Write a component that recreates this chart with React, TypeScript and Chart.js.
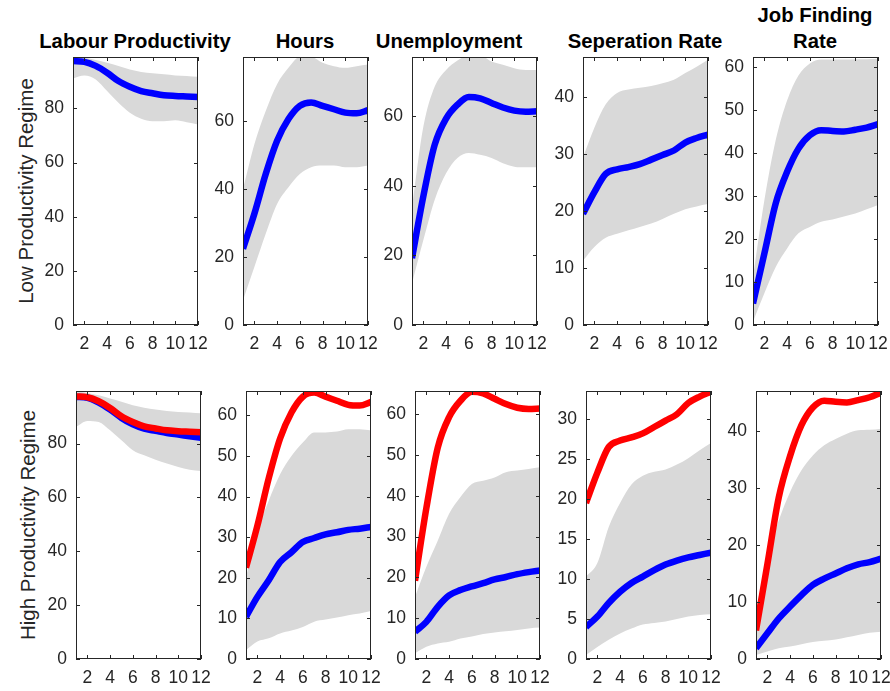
import React, { useEffect, useRef } from 'react';
import { Chart, registerables } from 'chart.js';

Chart.register(...registerables);

// horizon (quarters after the shock)
const horizon = [1, 2, 3, 4, 5, 6, 7, 8, 9, 10, 11, 12];

const indicatorTitles = [['Labour Productivity'], ['Hours'], ['Unemployment'], ['Seperation Rate'], ['Job Finding', 'Rate']];
const regimeLabels = ['Low Productivity Regime', 'High Productivity Regime'];

// low productivity regime: median and band
const lpLowMed = [97.5, 97.2, 95.7, 93.2, 90.1, 88.0, 86.4, 85.6, 84.9, 84.6, 84.4, 84.2];
const lpLowUp = [99.5, 98.8, 97.9, 96.9, 95.7, 94.4, 93.5, 93.0, 92.6, 92.2, 92.0, 91.7];
const lpLowLo = [91.1, 92.2, 90.7, 86.4, 82.1, 78.4, 76.2, 75.3, 75.3, 75.6, 74.9, 74.1];

const hoursLowMed = [22.5, 32.8, 44.5, 54.3, 60.7, 64.6, 65.6, 64.6, 63.6, 62.6, 62.4, 63.3];
const hoursLowUp = [40.1, 53.3, 63.1, 71.0, 75.8, 79.0, 79.0, 77.3, 76.3, 75.8, 76.3, 76.8];
const hoursLowLo = [7.3, 17.1, 26.9, 35.7, 40.6, 44.5, 46.5, 47.0, 47.0, 46.5, 46.5, 47.0];

const unempLowMed = [19.2, 37.0, 51.8, 59.3, 63.3, 65.5, 65.1, 63.8, 62.5, 61.6, 61.3, 61.4];
const unempLowUp = [34.0, 57.0, 68.5, 73.3, 76.0, 77.5, 77.5, 75.7, 74.8, 73.8, 73.3, 73.3];
const unempLowLo = [12.0, 24.4, 36.0, 43.6, 48.0, 49.4, 48.9, 48.0, 46.5, 45.5, 45.3, 45.3];

const sepLowMed = [19.5, 23.3, 26.5, 27.3, 27.7, 28.2, 29.0, 29.8, 30.6, 32.0, 32.8, 33.4];
const sepLowUp = [29.4, 34.6, 38.7, 40.7, 41.3, 41.6, 41.9, 42.4, 43.0, 44.2, 45.3, 46.5];
const sepLowLo = [11.3, 13.7, 15.3, 16.0, 16.6, 17.2, 17.8, 18.6, 19.5, 20.3, 20.8, 21.2];

const jfLowMed = [5.0, 16.6, 28.3, 35.6, 41.0, 44.1, 45.3, 45.1, 45.0, 45.4, 45.9, 46.7];
const jfLowUp = [11.2, 29.0, 43.0, 52.2, 58.0, 60.8, 61.7, 61.7, 61.7, 61.8, 61.8, 61.9];
const jfLowLo = [0.8, 7.4, 13.5, 17.8, 21.3, 22.8, 24.0, 24.5, 25.2, 25.9, 26.9, 27.9];

// high productivity regime: median and band
const lpHighMed = [97.3, 97.0, 95.2, 92.6, 89.5, 87.1, 85.5, 84.7, 83.9, 83.3, 82.7, 82.1];
const lpHighUp = [99.5, 98.8, 97.9, 96.7, 95.5, 94.2, 93.3, 92.6, 92.1, 91.7, 91.5, 91.2];
const lpHighLo = [86.2, 88.4, 88.0, 84.9, 81.2, 77.5, 75.6, 74.0, 72.6, 71.3, 70.3, 69.8];

const hoursHighMed = [10.4, 15.3, 19.4, 23.9, 26.3, 28.8, 29.8, 30.7, 31.2, 31.8, 32.1, 32.5];
const hoursHighUp = [20.2, 31.6, 39.0, 45.5, 50.0, 53.3, 55.8, 55.8, 56.0, 56.6, 56.6, 56.3];
const hoursHighLo = [2.2, 4.3, 5.1, 6.3, 7.0, 7.9, 9.2, 9.7, 10.2, 10.8, 11.2, 11.8];

const unempHighMed = [6.7, 9.1, 12.8, 15.6, 16.9, 17.8, 18.6, 19.5, 20.1, 20.8, 21.3, 21.7];
const unempHighUp = [15.2, 22.6, 29.0, 35.6, 39.7, 42.9, 43.7, 44.5, 45.8, 46.2, 46.6, 47.0];
const unempHighLo = [1.4, 3.0, 3.8, 4.2, 5.0, 5.5, 6.1, 6.5, 6.8, 7.1, 7.5, 7.7];

const sepHighMed = [4.0, 5.3, 7.0, 8.4, 9.5, 10.3, 11.1, 11.8, 12.3, 12.7, 13.0, 13.3];
const sepHighUp = [10.3, 12.0, 16.5, 19.5, 21.8, 22.9, 23.4, 23.7, 24.3, 25.1, 26.1, 27.0];
const sepHighLo = [0.5, 1.5, 2.4, 3.2, 3.8, 4.3, 4.5, 4.7, 5.0, 5.3, 5.5, 5.6];

const jfHighMed = [1.9, 4.5, 7.1, 9.2, 11.2, 13.0, 14.1, 15.0, 15.9, 16.6, 17.0, 17.6];
const jfHighUp = [8.6, 17.9, 24.3, 29.3, 33.1, 35.7, 37.5, 38.6, 39.5, 40.1, 40.2, 40.4];
const jfHighLo = [0.7, 1.3, 1.9, 2.2, 2.6, 3.0, 3.2, 3.4, 3.8, 4.2, 4.6, 4.8];

// y axis limits / steps per panel
const lowYMax = [99, 79, 77, 47, 62.3];
const lowYStep = [20, 20, 20, 10, 10];
const highYMax = [99.5, 66, 65.7, 33.5, 47];
const highYStep = [20, 10, 10, 5, 10];

// layout
const FONT = 'Arial, "Liberation Sans", Helvetica, sans-serif';
const AXIS_COLOR = '#262626';
const LPAD = 50;
const TPAD = 24;
const RPAD = 22;
const BPAD = 30;
const PLOT_W = 125;
const PLOT_H = 268;
const lowLefts = [73, 243, 412, 583, 753];
const highLefts = [76, 246, 415, 586, 756];
const lowTop = 57;
const highTop = 391;
const titleCenters = [135, 305, 449, 645, 815];

// MATLAB style box with inward ticks on all sides
const boxPlugin = {
  id: 'matlabBox',
  afterDraw(chart: any) {
    const { ctx, chartArea } = chart;
    const { left, top, right, bottom } = chartArea;
    const xs = chart.scales.x;
    const ys = chart.scales.y;
    ctx.save();
    ctx.strokeStyle = AXIS_COLOR;
    ctx.lineWidth = 1;
    ctx.strokeRect(left + 0.5, top + 0.5, right - left - 1, bottom - top - 1);
    ctx.beginPath();
    xs.ticks.forEach((t: any) => {
      const px = Math.round(xs.getPixelForValue(t.value)) + 0.5;
      ctx.moveTo(px, bottom);
      ctx.lineTo(px, bottom - 4);
      ctx.moveTo(px, top);
      ctx.lineTo(px, top + 4);
    });
    ys.ticks.forEach((t: any) => {
      const py = Math.round(ys.getPixelForValue(t.value)) + 0.5;
      ctx.moveTo(left, py);
      ctx.lineTo(left + 4, py);
      ctx.moveTo(right, py);
      ctx.lineTo(right - 4, py);
    });
    ctx.stroke();
    ctx.restore();
  },
};

const toPoints = (vals: number[]) => horizon.map((h, i) => ({ x: h, y: vals[i] }));

interface PanelProps {
  median: number[];
  upper: number[];
  lower: number[];
  benchmark?: number[];
  yMax: number;
  yStep: number;
  left: number;
  top: number;
}

const Panel: React.FC<PanelProps> = ({ median, upper, lower, benchmark, yMax, yStep, left, top }) => {
  const chartRef = useRef<HTMLCanvasElement>(null);
  const width = LPAD + PLOT_W + RPAD;
  const height = TPAD + PLOT_H + BPAD;

  useEffect(() => {
    if (!chartRef.current) return;
    const lineStyle = {
      borderWidth: 6.5,
      pointRadius: 0,
      fill: false,
      cubicInterpolationMode: 'monotone' as const,
    };
    const datasets: any[] = [];
    if (benchmark) {
      datasets.push({ ...lineStyle, data: toPoints(benchmark), borderColor: '#ff0000' });
    }
    datasets.push({ ...lineStyle, data: toPoints(median), borderColor: '#0000ff' });
    datasets.push({
      data: toPoints(upper),
      borderWidth: 0,
      pointRadius: 0,
      backgroundColor: '#d9d9d9',
      fill: '+1',
      cubicInterpolationMode: 'monotone',
    });
    datasets.push({
      data: toPoints(lower),
      borderWidth: 0,
      pointRadius: 0,
      fill: false,
      cubicInterpolationMode: 'monotone',
    });

    const chart = new Chart(chartRef.current, {
      type: 'line',
      data: { datasets },
      options: {
        responsive: false,
        animation: false,
        layout: { padding: { left: 0, top: TPAD, right: RPAD, bottom: 0 } },
        plugins: { legend: { display: false }, tooltip: { enabled: false } },
        scales: {
          x: {
            type: 'linear',
            min: 1,
            max: 12,
            grid: { display: false, drawTicks: false },
            border: { display: false },
            ticks: {
              stepSize: 2,
              includeBounds: false,
              autoSkip: false,
              maxRotation: 0,
              padding: 9,
              color: AXIS_COLOR,
              font: { family: FONT, size: 17.5 },
            },
            afterFit: (scale: any) => {
              scale.height = BPAD;
            },
          },
          y: {
            min: 0,
            max: yMax,
            grid: { display: false, drawTicks: false },
            border: { display: false },
            ticks: {
              stepSize: yStep,
              includeBounds: false,
              padding: 9,
              color: AXIS_COLOR,
              font: { family: FONT, size: 17.5 },
            },
            afterFit: (scale: any) => {
              scale.width = LPAD;
            },
          },
        },
      },
      plugins: [boxPlugin],
    } as any);

    return () => {
      chart.destroy();
    };
  }, [median, upper, lower, benchmark, yMax, yStep]);

  return (
    <canvas
      ref={chartRef}
      width={width}
      height={height}
      style={{ position: 'absolute', left: left - LPAD, top: top - TPAD, width, height }}
    />
  );
};

const lowPanels = [
  { median: lpLowMed, upper: lpLowUp, lower: lpLowLo },
  { median: hoursLowMed, upper: hoursLowUp, lower: hoursLowLo },
  { median: unempLowMed, upper: unempLowUp, lower: unempLowLo },
  { median: sepLowMed, upper: sepLowUp, lower: sepLowLo },
  { median: jfLowMed, upper: jfLowUp, lower: jfLowLo },
];

const highPanels = [
  { median: lpHighMed, upper: lpHighUp, lower: lpHighLo },
  { median: hoursHighMed, upper: hoursHighUp, lower: hoursHighLo },
  { median: unempHighMed, upper: unempHighUp, lower: unempHighLo },
  { median: sepHighMed, upper: sepHighUp, lower: sepHighLo },
  { median: jfHighMed, upper: jfHighUp, lower: jfHighLo },
];

export default function App() {
  return (
    <div style={{ position: 'absolute', left: 0, top: 0, width: 890, height: 691, background: '#fff', overflow: 'hidden' }}>
      {indicatorTitles.map((lines, i) => (
        <div
          key={'t' + i}
          style={{
            position: 'absolute',
            left: titleCenters[i],
            top: 28 - (lines.length - 1) * 26,
            transform: 'translateX(-50%)',
            whiteSpace: 'nowrap',
            textAlign: 'center',
            font: `bold 20.3px ${FONT}`,
            lineHeight: '26px',
            color: '#000',
          }}
        >
          {lines.map((l, j) => (
            <div key={j}>{l}</div>
          ))}
        </div>
      ))}
      {regimeLabels.map((label, r) => (
        <div
          key={'r' + r}
          style={{
            position: 'absolute',
            left: r === 0 ? 26 : 28,
            top: r === 0 ? lowTop + PLOT_H / 2 : highTop + PLOT_H / 2,
            width: 300,
            transform: 'translate(-50%, -50%) rotate(-90deg)',
            textAlign: 'center',
            whiteSpace: 'nowrap',
            font: `20.5px ${FONT}`,
            color: AXIS_COLOR,
          }}
        >
          {label}
        </div>
      ))}
      {lowPanels.map((p, i) => (
        <Panel key={'l' + i} {...p} yMax={lowYMax[i]} yStep={lowYStep[i]} left={lowLefts[i]} top={lowTop} />
      ))}
      {highPanels.map((p, i) => (
        <Panel
          key={'h' + i}
          {...p}
          benchmark={lowPanels[i].median}
          yMax={highYMax[i]}
          yStep={highYStep[i]}
          left={highLefts[i]}
          top={highTop}
        />
      ))}
    </div>
  );
}
